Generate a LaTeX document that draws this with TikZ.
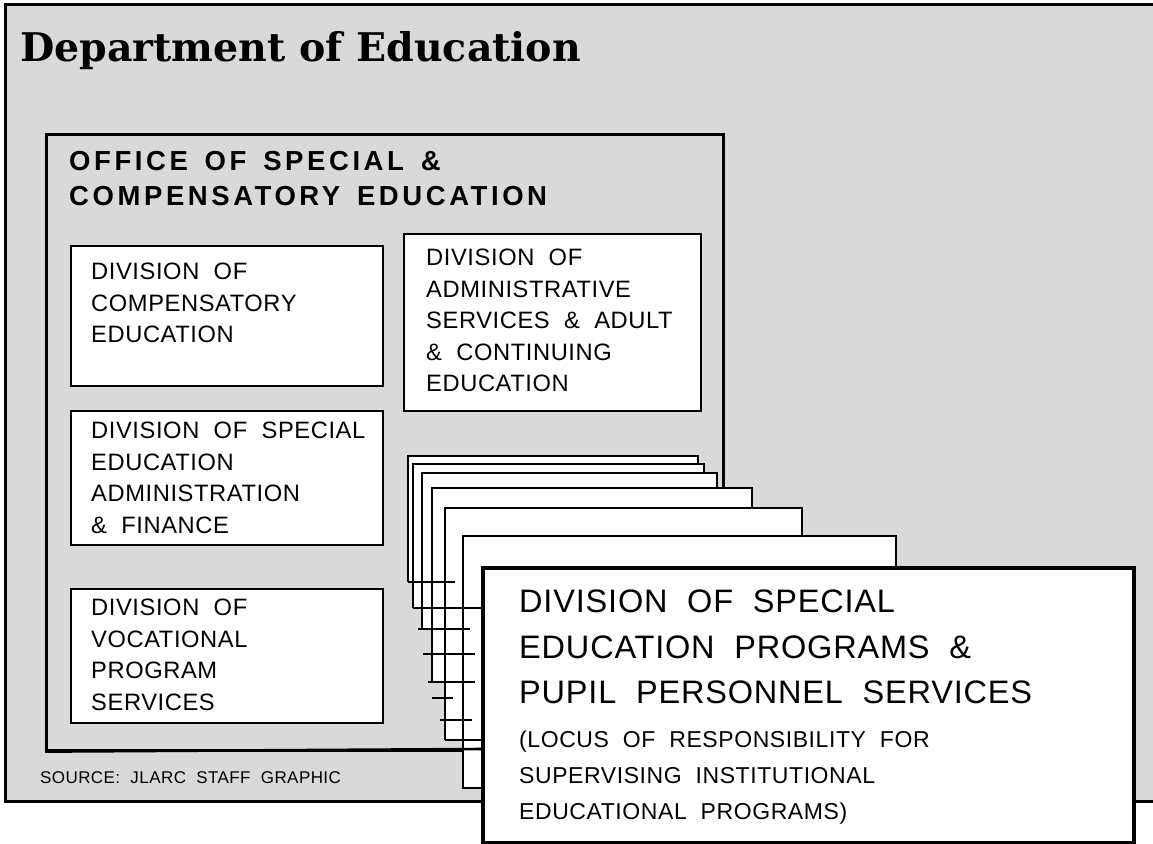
\documentclass[tikz,border=0pt]{standalone}
\usepackage{fontspec}
\newfontfamily\divfont[LetterSpace=2.5,WordSpace=2]{Liberation Sans}
\newfontfamily\officefont[LetterSpace=13,WordSpace=1.5]{Liberation Sans}
\newfontfamily\titleserif{DejaVu Serif}
\definecolor{stipple}{gray}{0.85}

\begin{document}
\begin{tikzpicture}[x=1pt,y=-1pt,
  outline/.style={draw=black,line width=2.6pt},
  divbox/.style={draw=black,fill=white,line width=2.4pt,inner sep=0pt,anchor=north west},
  divlabel/.style={anchor=north west,inner sep=0pt,align=left,
    font=\divfont\fontsize{23.7}{31.5}\selectfont},
  tick/.style={line width=2.2pt},
]
\useasboundingbox (0,0) rectangle (1153,843);
\fill[white] (0,0) rectangle (1153,843);

% shaded department frame
\filldraw[fill=stipple,line width=3pt] (5,5) rectangle (1170,801);

\node[anchor=base west,inner sep=0pt,
  font=\titleserif\bfseries\fontsize{39.5}{40}\selectfont] (title) at (20,62)
  {Department of Education};

% office frame
\node[outline,inner sep=0pt,anchor=north west,minimum width=677pt,minimum height=616pt]
  (office) at (45,133) {};
\node[anchor=north west,inner sep=0pt,align=left,
  font=\officefont\bfseries\fontsize{27.5}{35}\selectfont] (officeT) at (69,151)
  {OFFICE OF SPECIAL \&\\COMPENSATORY EDUCATION};

% divisions
\node[divbox,minimum width=312pt,minimum height=140pt] (comp) at (70,245) {};
\node[divlabel] (compT) at (91,263) {DIVISION OF\\COMPENSATORY\\EDUCATION};

\node[divbox,minimum width=297pt,minimum height=177pt] (admin) at (403,233) {};
\node[divlabel] (adminT) at (426,249)
  {DIVISION OF\\ADMINISTRATIVE\\SERVICES \& ADULT\\\& CONTINUING\\EDUCATION};

\node[divbox,minimum width=312pt,minimum height=134pt] (sped) at (70,410) {};
\node[divlabel] (spedT) at (91,422)
  {DIVISION OF SPECIAL\\EDUCATION\\ADMINISTRATION\\\& FINANCE};

\node[divbox,minimum width=312pt,minimum height=134pt] (voc) at (70,588) {};
\node[divlabel] (vocT) at (91,599)
  {DIVISION OF\\VOCATIONAL\\PROGRAM\\SERVICES};

% stack of program cards, back to front
\foreach \l/\t/\r/\b in {408/456/698/582, 413/464/704/608, 422/473/717/629,
                         432/488/752/682, 445/508/802/740, 463/536/896/788}{
  \fill[white] (\l,\t) rectangle (\r,\b);
  \draw[line width=2.2pt] (\l,\b) -- (\l,\t) -- (\r,\t) -- (\r,\b);
}
% card bottoms and page edges
\draw[tick] (408,582) -- (455,582)
            (413,608) -- (481,608)
            (418,629) -- (470,629)
            (423,654) -- (475,654)
            (428,682) -- (475,682)
            (432,698) -- (453,698)
            (440,720) -- (472,720)
            (445,740) -- (481,740)
            (462,788) -- (481,788);
\draw[line width=2.6pt] (office.south west) -- (481,749);

% front card
\node[draw=black,fill=white,line width=3.5pt,inner sep=0pt,anchor=north west,
  minimum width=651pt,minimum height=275pt] (spe) at (481,566) {};
\node[anchor=north west,inner sep=0pt,align=left,
  font=\divfont\fontsize{32.5}{45.5}\selectfont] (speT) at (519,590)
  {DIVISION OF SPECIAL\\EDUCATION PROGRAMS \&\\PUPIL PERSONNEL SERVICES};
\node[anchor=north west,inner sep=0pt,align=left,
  font=\divfont\fontsize{23}{36}\selectfont] (speN) at (519,731)
  {(LOCUS OF RESPONSIBILITY FOR\\SUPERVISING INSTITUTIONAL\\EDUCATIONAL PROGRAMS)};

\node[anchor=north west,inner sep=0pt,
  font=\divfont\fontsize{17}{20}\selectfont] (source) at (40,771)
  {SOURCE: JLARC STAFF GRAPHIC};
\end{tikzpicture}
\end{document}
